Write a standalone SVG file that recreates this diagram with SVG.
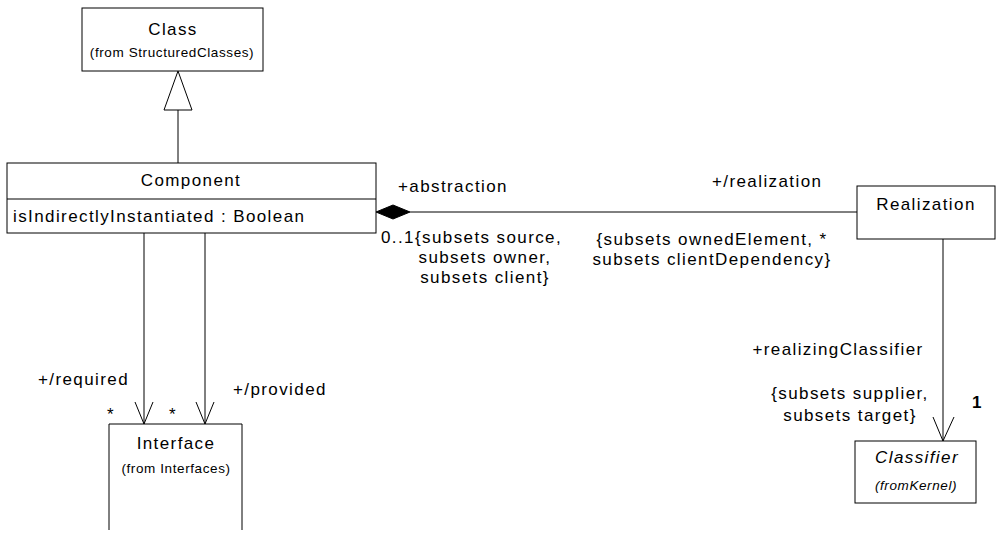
<svg xmlns="http://www.w3.org/2000/svg" width="1001" height="539" viewBox="0 0 1001 539">
<style>
.box{fill:#fff;stroke:#000;stroke-width:1}
.ln{fill:none;stroke:#000;stroke-width:1}
text{font-family:"Liberation Sans",Arial,sans-serif;fill:#000}
.t{font-size:17px;letter-spacing:1.4px}
.s{font-size:13.5px;letter-spacing:0.6px}
.m{text-anchor:middle}
.i{font-style:italic}
</style>
<rect width="1001" height="539" fill="#fff"/>
<g id="connectors">
<path class="ln" d="M178,163 V110"/>
<polygon class="box" points="178,71 164,110 192,110"/>
<path class="ln" d="M410,212 H857"/>
<polygon points="376,212 393,205 410,212 393,219" fill="#000" stroke="#000"/>
<path class="ln" d="M144,233 V424 M135,402 L144,424 L153,402"/>
<path class="ln" d="M205,233 V424 M196,402 L205,424 L214,402"/>
<path class="ln" d="M943,239 V441 M933,417 L943,441 L954,417"/>
<text class="t" x="398" y="192">+abstraction</text>
<text class="t" x="712" y="187">+/realization</text>
<text class="t" x="381" y="243">0..1{subsets source,</text>
<text class="t m" x="485" y="263">subsets owner,</text>
<text class="t m" x="485" y="283">subsets client}</text>
<text class="t m" x="712" y="245">{subsets ownedElement, *</text>
<text class="t m" x="712" y="265">subsets clientDependency}</text>
<text class="t" x="38" y="385">+/required</text>
<text class="t" x="233" y="395">+/provided</text>
<text class="t" x="107" y="420">*</text>
<text class="t" x="169" y="420">*</text>
<text class="t m" x="838" y="355">+realizingClassifier</text>
<text class="t m" x="850" y="399">{subsets supplier,</text>
<text class="t m" x="850" y="421">subsets target}</text>
<text class="t" x="972" y="408" font-weight="bold">1</text>
</g>
<g id="class">
<rect class="box" x="82" y="8" width="181" height="63"/>
<text class="t m" x="173" y="35">Class</text>
<text class="s m" x="172" y="57">(from StructuredClasses)</text>
</g>
<g id="component">
<rect class="box" x="7" y="163" width="369" height="70"/>
<path class="ln" d="M7,199 H376"/>
<text class="t m" x="191" y="186">Component</text>
<text class="t" x="13" y="222">isIndirectlyInstantiated : Boolean</text>
</g>
<g id="interface">
<path class="box" d="M109,530 V424 H242 V530"/>
<text class="t m" x="176" y="449">Interface</text>
<text class="s m" x="176" y="473">(from Interfaces)</text>
</g>
<g id="realization">
<rect class="box" x="857" y="186" width="138" height="53"/>
<text class="t m" x="926" y="210">Realization</text>
</g>
<g id="classifier">
<rect class="box" x="855" y="441" width="121" height="62"/>
<text class="t m i" x="917" y="463">Classifier</text>
<text class="s m i" x="916" y="490">(fromKernel)</text>
</g>
</svg>
